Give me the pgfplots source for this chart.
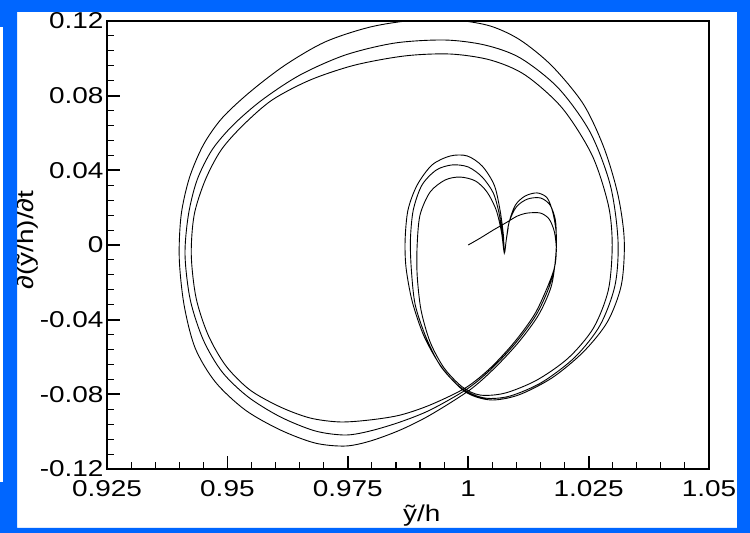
\documentclass[border=0pt]{standalone}
\usepackage{fontspec}
\setmainfont{Liberation Sans}[FakeStretch=1.22]
\usepackage{pgfplots}
\pgfplotsset{compat=1.18}
\definecolor{slideblue}{RGB}{0,102,255}
\begin{document}
\begin{tikzpicture}[x=1bp,y=1bp]
\useasboundingbox (0,0) rectangle (750,533);
\fill[white] (0,0) rectangle (750,533);
\begin{axis}[
  at={(107bp,64bp)}, anchor=south west,
  scale only axis, width=602bp, height=448bp,
  xmin=0.925, xmax=1.05, ymin=-0.12, ymax=0.12,
  xtick={0.925,0.95,0.975,1,1.025,1.05},
  xticklabels={0.925,0.95,0.975,1,1.025,1.05},
  ytick={-0.12,-0.08,-0.04,0,0.04,0.08,0.12},
  yticklabels={-0.12,-0.08,-0.04,0,0.04,0.08,0.12},
  minor x tick num=4, minor y tick num=4,
  xtick pos=left, ytick pos=left,
  tick align=inside,
  major tick length=13bp, minor tick length=7bp,
  major tick style={line width=1.8bp, black},
  minor tick style={line width=1.1bp, black},
  axis line style={line width=2.4bp},
  tick label style={font=\fontsize{23}{26}\selectfont},
  xticklabel style={yshift=-8bp},
  label style={font=\fontsize{23}{26}\selectfont},
  xlabel={ỹ/h},
  xlabel style={at={(axis description cs:0.523,0)}, anchor=base, yshift=-53bp},
  ylabel={∂(ỹ/h)/∂t},
  ylabel style={at={(axis description cs:-0.122,0.511)}, anchor=base},
]
\addplot[black, line width=0.9bp, smooth] coordinates {
(1.0000,0.0000) (1.0025,0.0037) (1.0052,0.0080) (1.0081,0.0123) (1.0102,0.0155) (1.0123,0.0171) (1.0150,0.0171) (1.0168,0.0139) (1.0179,0.0070) (1.0183,-0.0027) (1.0179,-0.0123) (1.0162,-0.0241) (1.0137,-0.0375) (1.0096,-0.0520) (1.0046,-0.0659) (0.9994,-0.0766)
(0.9921,-0.0857) (0.9859,-0.0911) (0.9797,-0.0937) (0.9734,-0.0948) (0.9672,-0.0927) (0.9610,-0.0868) (0.9547,-0.0777) (0.9497,-0.0648) (0.9460,-0.0482) (0.9435,-0.0284) (0.9425,-0.0054) (0.9431,0.0161) (0.9454,0.0348) (0.9487,0.0509) (0.9533,0.0643) (0.9593,0.0777) (0.9672,0.0884) (0.9765,0.0964) (0.9869,0.1013) (0.9963,0.1023) (1.0046,0.0991) (1.0118,0.0911) (1.0195,0.0734) (1.0257,0.0482) (1.0291,0.0214) (1.0299,0.0000) (1.0291,-0.0241) (1.0260,-0.0445) (1.0208,-0.0605) (1.0143,-0.0723) (1.0077,-0.0793) (1.0025,-0.0804)
(0.9988,-0.0761) (0.9950,-0.0659) (0.9921,-0.0520) (0.9902,-0.0348) (0.9894,-0.0161) (0.9894,0.0000) (0.9900,0.0161) (0.9921,0.0284) (0.9952,0.0348) (0.9983,0.0364) (1.0015,0.0343) (1.0039,0.0284) (1.0058,0.0188) (1.0069,0.0070) (1.0075,-0.0043)
(1.0079,0.0027) (1.0085,0.0123) (1.0100,0.0204) (1.0123,0.0246) (1.0150,0.0252) (1.0170,0.0214) (1.0181,0.0134) (1.0183,0.0027) (1.0181,-0.0091) (1.0168,-0.0225) (1.0141,-0.0375) (1.0100,-0.0520) (1.0050,-0.0659) (0.9998,-0.0771)
(0.9921,-0.0884) (0.9859,-0.0948) (0.9797,-0.0996) (0.9745,-0.1018) (0.9682,-0.0996) (0.9610,-0.0921) (0.9543,-0.0814) (0.9489,-0.0680) (0.9450,-0.0509) (0.9423,-0.0295) (0.9412,-0.0054) (0.9419,0.0161) (0.9437,0.0348) (0.9468,0.0509) (0.9512,0.0643) (0.9572,0.0777) (0.9651,0.0911) (0.9745,0.1018) (0.9848,0.1082) (0.9952,0.1098) (1.0035,0.1071) (1.0108,0.1002) (1.0187,0.0841) (1.0253,0.0605) (1.0295,0.0321) (1.0311,0.0027) (1.0305,-0.0214) (1.0274,-0.0429) (1.0222,-0.0600) (1.0154,-0.0734) (1.0087,-0.0809) (1.0035,-0.0820)
(0.9988,-0.0771) (0.9944,-0.0654) (0.9913,-0.0498) (0.9890,-0.0321) (0.9882,-0.0134) (0.9880,0.0027) (0.9886,0.0188) (0.9904,0.0321) (0.9934,0.0402) (0.9967,0.0429) (1.0000,0.0418) (1.0029,0.0364) (1.0052,0.0279) (1.0064,0.0171) (1.0071,0.0054) (1.0075,-0.0043)
(1.0079,0.0027) (1.0085,0.0123) (1.0098,0.0214) (1.0118,0.0262) (1.0143,0.0279) (1.0164,0.0252) (1.0176,0.0171) (1.0183,0.0054) (1.0181,-0.0080) (1.0172,-0.0225) (1.0146,-0.0375) (1.0105,-0.0520) (1.0055,-0.0659) (1.0003,-0.0777)
(0.9921,-0.0911) (0.9859,-0.0991) (0.9797,-0.1050) (0.9745,-0.1077) (0.9682,-0.1061) (0.9610,-0.0991) (0.9537,-0.0884) (0.9475,-0.0734) (0.9433,-0.0552) (0.9410,-0.0321) (0.9400,-0.0070) (0.9404,0.0161) (0.9421,0.0359) (0.9450,0.0536) (0.9489,0.0680) (0.9547,0.0820) (0.9620,0.0964) (0.9703,0.1088) (0.9797,0.1168) (0.9890,0.1205) (0.9973,0.1205) (1.0046,0.1173) (1.0108,0.1098) (1.0174,0.0959) (1.0239,0.0755) (1.0282,0.0520) (1.0311,0.0268) (1.0324,0.0027) (1.0318,-0.0214) (1.0289,-0.0412) (1.0239,-0.0573) (1.0174,-0.0712) (1.0104,-0.0804) (1.0046,-0.0830)
(0.9994,-0.0787) (0.9946,-0.0659) (0.9909,-0.0493) (0.9884,-0.0305) (0.9871,-0.0123) (0.9869,0.0027) (0.9875,0.0188) (0.9894,0.0321) (0.9925,0.0429) (0.9963,0.0477) (0.9998,0.0477) (1.0029,0.0423) (1.0054,0.0321) (1.0066,0.0188) (1.0073,0.0054) (1.0075,-0.0043) (1.0079,0.0027) (1.0083,0.0091)
};
\end{axis}
\fill[slideblue, even odd rule] (0,0) rectangle (750,533) (17,5) rectangle (737,521);
\fill[white] (0,51) rectangle (3,506);
\end{tikzpicture}
\end{document}
